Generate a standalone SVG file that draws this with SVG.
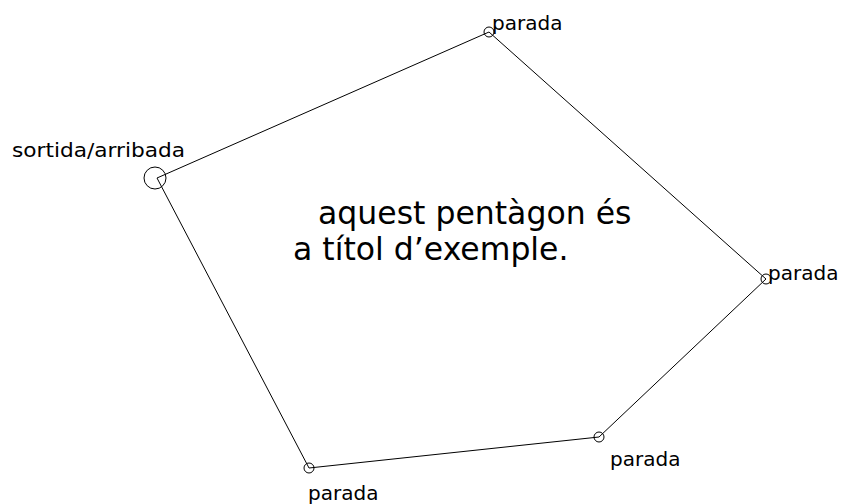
<svg xmlns="http://www.w3.org/2000/svg" width="843" height="504" viewBox="0 0 843 504">
<style>
.e{stroke:#000;stroke-width:1;fill:none}
.n{fill:none;stroke:#000;stroke-width:1}
.l{font-family:"DejaVu Sans",Verdana,sans-serif;font-size:20px;fill:#000}
.m{font-family:"DejaVu Sans",Verdana,sans-serif;font-size:31.5px;fill:#000}
</style>
<rect width="843" height="504" fill="#fff"/>
<g id="connectors">
<line class="e" x1="157" y1="178" x2="489" y2="32"/>
<line class="e" x1="489" y1="32" x2="766" y2="279"/>
<line class="e" x1="766" y1="279" x2="599" y2="437"/>
<line class="e" x1="599" y1="437" x2="309" y2="468"/>
<line class="e" x1="309" y1="468" x2="157" y2="178"/>
</g>
<g id="start"><circle class="n" cx="155" cy="178" r="11"/><text class="l" x="12" y="157" textLength="173" lengthAdjust="spacingAndGlyphs">sortida/arribada</text></g>
<g id="stop1"><circle class="n" cx="489" cy="32" r="5"/><text class="l" x="492" y="30">parada</text></g>
<g id="stop2"><circle class="n" cx="766" cy="279" r="5"/><text class="l" x="768" y="280">parada</text></g>
<g id="stop3"><circle class="n" cx="599" cy="437" r="5"/><text class="l" x="610" y="466">parada</text></g>
<g id="stop4"><circle class="n" cx="309" cy="468" r="5"/><text class="l" x="308" y="500">parada</text></g>
<g id="caption"><text class="m" x="318" y="224">aquest pentàgon és</text><text class="m" x="293" y="260">a títol d’exemple.</text></g>
</svg>
